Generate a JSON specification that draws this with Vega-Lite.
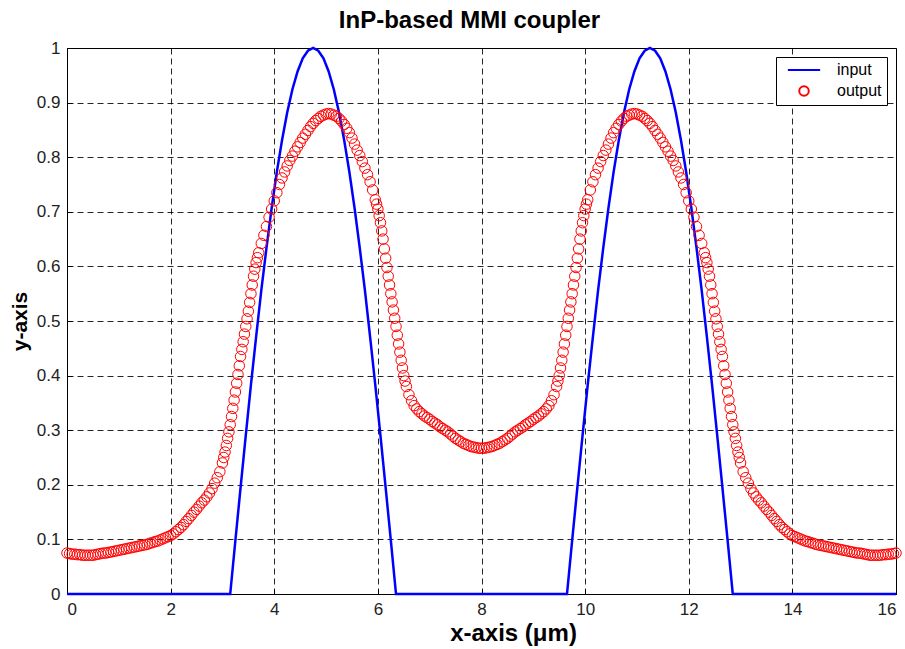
{
  "$schema": "https://vega.github.io/schema/vega-lite/v6.json",
  "width": 829,
  "height": 546,
  "autosize": {"type": "none"},
  "padding": {"left": 67, "top": 48, "right": 9, "bottom": 55},
  "background": "white",
  "title": {"text": "InP-based MMI coupler", "font": "Liberation Sans", "fontSize": 24, "fontWeight": "bold", "color": "#000", "offset": 6, "dx": -12},
  "config": {
    "view": {"stroke": "#000", "strokeWidth": 1},
    "axis": {"labelFont": "Liberation Sans", "labelFontSize": 17, "labelColor": "#222", "titleFont": "Liberation Sans", "titleFontWeight": "bold", "titleColor": "#000", "grid": true, "gridColor": "#000", "gridOpacity": 0.85, "gridDash": [6, 4], "gridWidth": 1, "domainColor": "#000", "tickColor": "#000", "tickSize": -5, "labelPadding": 12},
    "legend": {"orient": "top-right", "offset": 9, "strokeColor": "#000", "fillColor": "#fff", "padding": 5, "labelFont": "Liberation Sans", "labelFontSize": 16, "labelColor": "#000", "symbolSize": 90, "symbolStrokeWidth": 2, "symbolOffset": 15, "labelOffset": 25, "rowPadding": 4, "cornerRadius": 0}
  },
  "datasets": {
    "inp": [
      {"x": 0, "y": 0}, {"x": 3.15, "y": 0}, {"x": 3.25, "y": 0.098}, {"x": 3.35, "y": 0.195}, {"x": 3.45, "y": 0.29}, {"x": 3.55, "y": 0.383}, {"x": 3.65, "y": 0.471}, {"x": 3.75, "y": 0.556}, {"x": 3.85, "y": 0.634}, {"x": 3.95, "y": 0.707}, {"x": 4.05, "y": 0.773}, {"x": 4.15, "y": 0.831}, {"x": 4.25, "y": 0.882}, {"x": 4.35, "y": 0.924}, {"x": 4.45, "y": 0.957}, {"x": 4.55, "y": 0.981}, {"x": 4.65, "y": 0.995}, {"x": 4.75, "y": 1}, {"x": 4.85, "y": 0.995}, {"x": 4.95, "y": 0.981}, {"x": 5.05, "y": 0.957}, {"x": 5.15, "y": 0.924}, {"x": 5.25, "y": 0.882}, {"x": 5.35, "y": 0.831}, {"x": 5.45, "y": 0.773}, {"x": 5.55, "y": 0.707}, {"x": 5.65, "y": 0.634}, {"x": 5.75, "y": 0.556}, {"x": 5.85, "y": 0.471}, {"x": 5.95, "y": 0.383}, {"x": 6.05, "y": 0.29}, {"x": 6.15, "y": 0.195}, {"x": 6.25, "y": 0.098}, {"x": 6.35, "y": 0},
      {"x": 9.65, "y": 0}, {"x": 9.75, "y": 0.098}, {"x": 9.85, "y": 0.195}, {"x": 9.95, "y": 0.29}, {"x": 10.05, "y": 0.383}, {"x": 10.15, "y": 0.471}, {"x": 10.25, "y": 0.556}, {"x": 10.35, "y": 0.634}, {"x": 10.45, "y": 0.707}, {"x": 10.55, "y": 0.773}, {"x": 10.65, "y": 0.831}, {"x": 10.75, "y": 0.882}, {"x": 10.85, "y": 0.924}, {"x": 10.95, "y": 0.957}, {"x": 11.05, "y": 0.981}, {"x": 11.15, "y": 0.995}, {"x": 11.25, "y": 1}, {"x": 11.35, "y": 0.995}, {"x": 11.45, "y": 0.981}, {"x": 11.55, "y": 0.957}, {"x": 11.65, "y": 0.924}, {"x": 11.75, "y": 0.882}, {"x": 11.85, "y": 0.831}, {"x": 11.95, "y": 0.773}, {"x": 12.05, "y": 0.707}, {"x": 12.15, "y": 0.634}, {"x": 12.25, "y": 0.556}, {"x": 12.35, "y": 0.471}, {"x": 12.45, "y": 0.383}, {"x": 12.55, "y": 0.29}, {"x": 12.65, "y": 0.195}, {"x": 12.75, "y": 0.098}, {"x": 12.85, "y": 0}, {"x": 16, "y": 0}
    ],
    "out": [
      {"x": 0, "y": 0.075}, {"x": 0.05, "y": 0.074}, {"x": 0.1, "y": 0.073}, {"x": 0.15, "y": 0.073}, {"x": 0.2, "y": 0.072}, {"x": 0.25, "y": 0.072}, {"x": 0.3, "y": 0.071}, {"x": 0.35, "y": 0.071}, {"x": 0.4, "y": 0.071}, {"x": 0.45, "y": 0.071}, {"x": 0.5, "y": 0.071}, {"x": 0.55, "y": 0.072}, {"x": 0.6, "y": 0.073}, {"x": 0.65, "y": 0.074}, {"x": 0.7, "y": 0.075}, {"x": 0.75, "y": 0.075}, {"x": 0.8, "y": 0.076}, {"x": 0.85, "y": 0.077}, {"x": 0.9, "y": 0.078}, {"x": 0.95, "y": 0.079},
      {"x": 1, "y": 0.08}, {"x": 1.05, "y": 0.081}, {"x": 1.1, "y": 0.082}, {"x": 1.15, "y": 0.083}, {"x": 1.2, "y": 0.084}, {"x": 1.25, "y": 0.085}, {"x": 1.3, "y": 0.086}, {"x": 1.35, "y": 0.087}, {"x": 1.4, "y": 0.088}, {"x": 1.45, "y": 0.089}, {"x": 1.5, "y": 0.09}, {"x": 1.55, "y": 0.091}, {"x": 1.6, "y": 0.093}, {"x": 1.65, "y": 0.094}, {"x": 1.7, "y": 0.096}, {"x": 1.75, "y": 0.097}, {"x": 1.8, "y": 0.099}, {"x": 1.85, "y": 0.101}, {"x": 1.9, "y": 0.103}, {"x": 1.95, "y": 0.105},
      {"x": 2, "y": 0.107}, {"x": 2.05, "y": 0.11}, {"x": 2.1, "y": 0.114}, {"x": 2.15, "y": 0.118}, {"x": 2.2, "y": 0.122}, {"x": 2.25, "y": 0.127}, {"x": 2.3, "y": 0.133}, {"x": 2.35, "y": 0.138}, {"x": 2.4, "y": 0.144}, {"x": 2.45, "y": 0.15}, {"x": 2.5, "y": 0.155}, {"x": 2.55, "y": 0.161}, {"x": 2.6, "y": 0.167}, {"x": 2.65, "y": 0.172}, {"x": 2.7, "y": 0.178}, {"x": 2.75, "y": 0.185}, {"x": 2.8, "y": 0.193}, {"x": 2.85, "y": 0.203}, {"x": 2.9, "y": 0.213}, {"x": 2.95, "y": 0.224},
      {"x": 3, "y": 0.24}, {"x": 3.05, "y": 0.26}, {"x": 3.1, "y": 0.285}, {"x": 3.15, "y": 0.31}, {"x": 3.2, "y": 0.34}, {"x": 3.25, "y": 0.37}, {"x": 3.3, "y": 0.402}, {"x": 3.35, "y": 0.435}, {"x": 3.4, "y": 0.462}, {"x": 3.45, "y": 0.49}, {"x": 3.5, "y": 0.518}, {"x": 3.55, "y": 0.55}, {"x": 3.6, "y": 0.582}, {"x": 3.65, "y": 0.607}, {"x": 3.7, "y": 0.625}, {"x": 3.75, "y": 0.642}, {"x": 3.8, "y": 0.657}, {"x": 3.85, "y": 0.673}, {"x": 3.9, "y": 0.69}, {"x": 3.95, "y": 0.705},
      {"x": 4, "y": 0.72}, {"x": 4.05, "y": 0.735}, {"x": 4.1, "y": 0.75}, {"x": 4.15, "y": 0.762}, {"x": 4.2, "y": 0.773}, {"x": 4.25, "y": 0.784}, {"x": 4.3, "y": 0.794}, {"x": 4.35, "y": 0.802}, {"x": 4.4, "y": 0.811}, {"x": 4.45, "y": 0.819}, {"x": 4.5, "y": 0.827}, {"x": 4.55, "y": 0.835}, {"x": 4.6, "y": 0.842}, {"x": 4.65, "y": 0.849}, {"x": 4.7, "y": 0.856}, {"x": 4.75, "y": 0.862}, {"x": 4.8, "y": 0.867}, {"x": 4.85, "y": 0.871}, {"x": 4.9, "y": 0.875}, {"x": 4.95, "y": 0.877},
      {"x": 5, "y": 0.879}, {"x": 5.05, "y": 0.88}, {"x": 5.1, "y": 0.879}, {"x": 5.15, "y": 0.877}, {"x": 5.2, "y": 0.875}, {"x": 5.25, "y": 0.871}, {"x": 5.3, "y": 0.866}, {"x": 5.35, "y": 0.86}, {"x": 5.4, "y": 0.853}, {"x": 5.45, "y": 0.845}, {"x": 5.5, "y": 0.835}, {"x": 5.55, "y": 0.824}, {"x": 5.6, "y": 0.813}, {"x": 5.65, "y": 0.803}, {"x": 5.7, "y": 0.792}, {"x": 5.75, "y": 0.78}, {"x": 5.8, "y": 0.768}, {"x": 5.85, "y": 0.755}, {"x": 5.9, "y": 0.74}, {"x": 5.95, "y": 0.722},
      {"x": 6, "y": 0.705}, {"x": 6.05, "y": 0.68}, {"x": 6.1, "y": 0.65}, {"x": 6.15, "y": 0.615}, {"x": 6.2, "y": 0.582}, {"x": 6.25, "y": 0.55}, {"x": 6.3, "y": 0.52}, {"x": 6.35, "y": 0.49}, {"x": 6.4, "y": 0.458}, {"x": 6.45, "y": 0.428}, {"x": 6.5, "y": 0.4}, {"x": 6.55, "y": 0.38}, {"x": 6.6, "y": 0.365}, {"x": 6.65, "y": 0.354}, {"x": 6.7, "y": 0.345}, {"x": 6.75, "y": 0.339}, {"x": 6.8, "y": 0.334}, {"x": 6.85, "y": 0.33}, {"x": 6.9, "y": 0.326}, {"x": 6.95, "y": 0.323},
      {"x": 7, "y": 0.32}, {"x": 7.05, "y": 0.316}, {"x": 7.1, "y": 0.313}, {"x": 7.15, "y": 0.31}, {"x": 7.2, "y": 0.306}, {"x": 7.25, "y": 0.303}, {"x": 7.3, "y": 0.3}, {"x": 7.35, "y": 0.297}, {"x": 7.4, "y": 0.293}, {"x": 7.45, "y": 0.289}, {"x": 7.5, "y": 0.285}, {"x": 7.55, "y": 0.282}, {"x": 7.6, "y": 0.279}, {"x": 7.65, "y": 0.276}, {"x": 7.7, "y": 0.274}, {"x": 7.75, "y": 0.272}, {"x": 7.8, "y": 0.27}, {"x": 7.85, "y": 0.269}, {"x": 7.9, "y": 0.268}, {"x": 7.95, "y": 0.267},
      {"x": 8, "y": 0.267}, {"x": 8.05, "y": 0.267}, {"x": 8.1, "y": 0.268}, {"x": 8.15, "y": 0.269}, {"x": 8.2, "y": 0.27}, {"x": 8.25, "y": 0.272}, {"x": 8.3, "y": 0.274}, {"x": 8.35, "y": 0.276}, {"x": 8.4, "y": 0.279}, {"x": 8.45, "y": 0.282}, {"x": 8.5, "y": 0.285}, {"x": 8.55, "y": 0.289}, {"x": 8.6, "y": 0.293}, {"x": 8.65, "y": 0.297}, {"x": 8.7, "y": 0.3}, {"x": 8.75, "y": 0.303}, {"x": 8.8, "y": 0.306}, {"x": 8.85, "y": 0.31}, {"x": 8.9, "y": 0.313}, {"x": 8.95, "y": 0.316},
      {"x": 9, "y": 0.32}, {"x": 9.05, "y": 0.323}, {"x": 9.1, "y": 0.326}, {"x": 9.15, "y": 0.33}, {"x": 9.2, "y": 0.334}, {"x": 9.25, "y": 0.339}, {"x": 9.3, "y": 0.345}, {"x": 9.35, "y": 0.354}, {"x": 9.4, "y": 0.365}, {"x": 9.45, "y": 0.38}, {"x": 9.5, "y": 0.4}, {"x": 9.55, "y": 0.428}, {"x": 9.6, "y": 0.458}, {"x": 9.65, "y": 0.49}, {"x": 9.7, "y": 0.52}, {"x": 9.75, "y": 0.55}, {"x": 9.8, "y": 0.582}, {"x": 9.85, "y": 0.615}, {"x": 9.9, "y": 0.65}, {"x": 9.95, "y": 0.68},
      {"x": 10, "y": 0.705}, {"x": 10.05, "y": 0.722}, {"x": 10.1, "y": 0.74}, {"x": 10.15, "y": 0.755}, {"x": 10.2, "y": 0.768}, {"x": 10.25, "y": 0.78}, {"x": 10.3, "y": 0.792}, {"x": 10.35, "y": 0.803}, {"x": 10.4, "y": 0.813}, {"x": 10.45, "y": 0.824}, {"x": 10.5, "y": 0.835}, {"x": 10.55, "y": 0.845}, {"x": 10.6, "y": 0.853}, {"x": 10.65, "y": 0.86}, {"x": 10.7, "y": 0.866}, {"x": 10.75, "y": 0.871}, {"x": 10.8, "y": 0.875}, {"x": 10.85, "y": 0.877}, {"x": 10.9, "y": 0.879}, {"x": 10.95, "y": 0.88},
      {"x": 11, "y": 0.879}, {"x": 11.05, "y": 0.877}, {"x": 11.1, "y": 0.875}, {"x": 11.15, "y": 0.871}, {"x": 11.2, "y": 0.867}, {"x": 11.25, "y": 0.862}, {"x": 11.3, "y": 0.856}, {"x": 11.35, "y": 0.849}, {"x": 11.4, "y": 0.842}, {"x": 11.45, "y": 0.835}, {"x": 11.5, "y": 0.827}, {"x": 11.55, "y": 0.819}, {"x": 11.6, "y": 0.811}, {"x": 11.65, "y": 0.802}, {"x": 11.7, "y": 0.794}, {"x": 11.75, "y": 0.784}, {"x": 11.8, "y": 0.773}, {"x": 11.85, "y": 0.762}, {"x": 11.9, "y": 0.75}, {"x": 11.95, "y": 0.735},
      {"x": 12, "y": 0.72}, {"x": 12.05, "y": 0.705}, {"x": 12.1, "y": 0.69}, {"x": 12.15, "y": 0.673}, {"x": 12.2, "y": 0.657}, {"x": 12.25, "y": 0.642}, {"x": 12.3, "y": 0.625}, {"x": 12.35, "y": 0.607}, {"x": 12.4, "y": 0.582}, {"x": 12.45, "y": 0.55}, {"x": 12.5, "y": 0.518}, {"x": 12.55, "y": 0.49}, {"x": 12.6, "y": 0.462}, {"x": 12.65, "y": 0.435}, {"x": 12.7, "y": 0.402}, {"x": 12.75, "y": 0.37}, {"x": 12.8, "y": 0.34}, {"x": 12.85, "y": 0.31}, {"x": 12.9, "y": 0.285}, {"x": 12.95, "y": 0.26},
      {"x": 13, "y": 0.24}, {"x": 13.05, "y": 0.224}, {"x": 13.1, "y": 0.213}, {"x": 13.15, "y": 0.203}, {"x": 13.2, "y": 0.193}, {"x": 13.25, "y": 0.185}, {"x": 13.3, "y": 0.178}, {"x": 13.35, "y": 0.172}, {"x": 13.4, "y": 0.167}, {"x": 13.45, "y": 0.161}, {"x": 13.5, "y": 0.155}, {"x": 13.55, "y": 0.15}, {"x": 13.6, "y": 0.144}, {"x": 13.65, "y": 0.138}, {"x": 13.7, "y": 0.133}, {"x": 13.75, "y": 0.127}, {"x": 13.8, "y": 0.122}, {"x": 13.85, "y": 0.118}, {"x": 13.9, "y": 0.114}, {"x": 13.95, "y": 0.11},
      {"x": 14, "y": 0.107}, {"x": 14.05, "y": 0.105}, {"x": 14.1, "y": 0.103}, {"x": 14.15, "y": 0.101}, {"x": 14.2, "y": 0.099}, {"x": 14.25, "y": 0.097}, {"x": 14.3, "y": 0.096}, {"x": 14.35, "y": 0.094}, {"x": 14.4, "y": 0.093}, {"x": 14.45, "y": 0.091}, {"x": 14.5, "y": 0.09}, {"x": 14.55, "y": 0.089}, {"x": 14.6, "y": 0.088}, {"x": 14.65, "y": 0.087}, {"x": 14.7, "y": 0.086}, {"x": 14.75, "y": 0.085}, {"x": 14.8, "y": 0.084}, {"x": 14.85, "y": 0.083}, {"x": 14.9, "y": 0.082}, {"x": 14.95, "y": 0.081},
      {"x": 15, "y": 0.08}, {"x": 15.05, "y": 0.079}, {"x": 15.1, "y": 0.078}, {"x": 15.15, "y": 0.077}, {"x": 15.2, "y": 0.076}, {"x": 15.25, "y": 0.075}, {"x": 15.3, "y": 0.075}, {"x": 15.35, "y": 0.074}, {"x": 15.4, "y": 0.073}, {"x": 15.45, "y": 0.072}, {"x": 15.5, "y": 0.071}, {"x": 15.55, "y": 0.071}, {"x": 15.6, "y": 0.071}, {"x": 15.65, "y": 0.071}, {"x": 15.7, "y": 0.071}, {"x": 15.75, "y": 0.072}, {"x": 15.8, "y": 0.072}, {"x": 15.85, "y": 0.073}, {"x": 15.9, "y": 0.073}, {"x": 15.95, "y": 0.074},
      {"x": 16, "y": 0.075},
      {"x": 3.025, "y": 0.25}, {"x": 3.075, "y": 0.272}, {"x": 3.125, "y": 0.297}, {"x": 3.175, "y": 0.325}, {"x": 3.225, "y": 0.355}, {"x": 3.275, "y": 0.386}, {"x": 3.325, "y": 0.418}, {"x": 3.375, "y": 0.448}, {"x": 3.425, "y": 0.476}, {"x": 3.475, "y": 0.504}, {"x": 3.525, "y": 0.534}, {"x": 3.575, "y": 0.566}, {"x": 3.625, "y": 0.595}, {"x": 3.675, "y": 0.616},
      {"x": 5.975, "y": 0.714}, {"x": 6.025, "y": 0.693}, {"x": 6.075, "y": 0.665}, {"x": 6.125, "y": 0.632}, {"x": 6.175, "y": 0.598}, {"x": 6.225, "y": 0.566}, {"x": 6.275, "y": 0.535}, {"x": 6.325, "y": 0.505}, {"x": 6.375, "y": 0.474}, {"x": 6.425, "y": 0.443}, {"x": 6.475, "y": 0.414}, {"x": 6.525, "y": 0.39},
      {"x": 9.475, "y": 0.39}, {"x": 9.525, "y": 0.414}, {"x": 9.575, "y": 0.443}, {"x": 9.625, "y": 0.474}, {"x": 9.675, "y": 0.505}, {"x": 9.725, "y": 0.535}, {"x": 9.775, "y": 0.566}, {"x": 9.825, "y": 0.598}, {"x": 9.875, "y": 0.632}, {"x": 9.925, "y": 0.665}, {"x": 9.975, "y": 0.693}, {"x": 10.025, "y": 0.714},
      {"x": 12.325, "y": 0.616}, {"x": 12.375, "y": 0.595}, {"x": 12.425, "y": 0.566}, {"x": 12.475, "y": 0.534}, {"x": 12.525, "y": 0.504}, {"x": 12.575, "y": 0.476}, {"x": 12.625, "y": 0.448}, {"x": 12.675, "y": 0.418}, {"x": 12.725, "y": 0.386}, {"x": 12.775, "y": 0.355}, {"x": 12.825, "y": 0.325}, {"x": 12.875, "y": 0.297}, {"x": 12.925, "y": 0.272}, {"x": 12.975, "y": 0.25}
    ]
  },
  "encoding": {
    "x": {"field": "x", "type": "quantitative", "scale": {"domain": [0, 16], "nice": false, "zero": false},
      "axis": {"values": [0, 2, 4, 6, 8, 10, 12, 14, 16], "title": "x-axis (μm)", "titleFontSize": 24, "titlePadding": 4, "titleX": 446}},
    "y": {"field": "y", "type": "quantitative", "scale": {"domain": [0, 1], "nice": false},
      "axis": {"values": [0, 0.1, 0.2, 0.3, 0.4, 0.5, 0.6, 0.7, 0.8, 0.9, 1], "format": "~g", "title": "y-axis", "titleFontSize": 21, "titlePadding": 6}}
  },
  "layer": [
    {
      "data": {"name": "inp"},
      "mark": {"type": "line", "strokeWidth": 2.5, "clip": false},
      "encoding": {
        "color": {"datum": "input", "type": "nominal"}
      }
    },
    {
      "data": {"name": "out"},
      "mark": {"type": "point", "filled": false, "size": 110, "strokeWidth": 1, "opacity": 1, "clip": false},
      "encoding": {
        "color": {"datum": "output", "type": "nominal", "scale": {"domain": ["input", "output"], "range": ["#0000ff", "#ff0000"]},
          "legend": {"title": null, "encode": {"symbols": {"update": {"fill": {"value": "transparent"}}}}}},
        "shape": {"datum": "output", "type": "nominal", "scale": {"domain": ["input", "output"], "range": ["M-3.4,0H3.4", "circle"]},
          "legend": {"title": null, "encode": {"symbols": {"update": {"fill": {"value": "transparent"}}}}}}
      }
    }
  ]
}
